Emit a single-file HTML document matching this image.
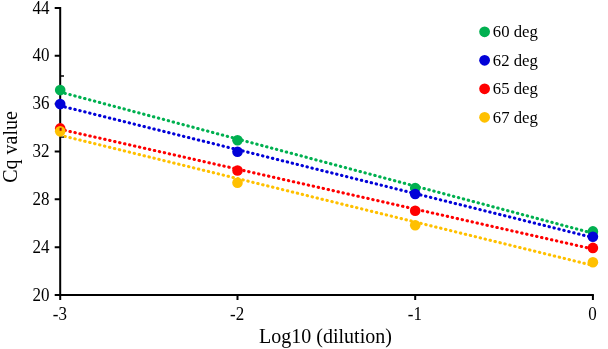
<!DOCTYPE html>
<html><head><meta charset="utf-8"><style>
html,body{margin:0;padding:0;background:#fff;}
body{width:608px;height:349px;overflow:hidden;}
svg{display:block;will-change:transform;}
.tl{font-family:"Liberation Serif",serif;font-size:16.7px;fill:#000;}
.t{font-family:"Liberation Serif",serif;font-size:17px;fill:#000;}
.tx{font-family:"Liberation Serif",serif;font-size:17px;fill:#000;}
.ti{font-family:"Liberation Serif",serif;font-size:20px;fill:#000;}
</style></head><body>
<svg width="608" height="349" viewBox="0 0 608 349">
<path d="M60.2 7.0V296.0M59.2 295.0H593.9" stroke="#000" stroke-width="2" fill="none"/>
<text transform="translate(49.6,300.50) scale(1,1.08)" text-anchor="end" class="t">20</text>
<text transform="translate(49.6,252.67) scale(1,1.08)" text-anchor="end" class="t">24</text>
<text transform="translate(49.6,204.83) scale(1,1.08)" text-anchor="end" class="t">28</text>
<text transform="translate(49.6,157.00) scale(1,1.08)" text-anchor="end" class="t">32</text>
<text transform="translate(49.6,109.17) scale(1,1.08)" text-anchor="end" class="t">36</text>
<text transform="translate(49.6,61.33) scale(1,1.08)" text-anchor="end" class="t">40</text>
<text transform="translate(49.6,13.50) scale(1,1.08)" text-anchor="end" class="t">44</text>
<text transform="translate(59.90,319.9) scale(1,1.09)" text-anchor="middle" class="tx">-3</text>
<text transform="translate(237.20,319.9) scale(1,1.09)" text-anchor="middle" class="tx">-2</text>
<text transform="translate(414.90,319.9) scale(1,1.09)" text-anchor="middle" class="tx">-1</text>
<text transform="translate(592.60,319.9) scale(1,1.09)" text-anchor="middle" class="tx">0</text>
<path d="M54.7 295.00H60.2M54.7 247.17H60.2M54.7 199.33H60.2M54.7 151.50H60.2M54.7 103.67H60.2M54.7 55.83H60.2M54.7 8.00H60.2M60.20 295.0V300.0M237.50 295.0V300.0M415.20 295.0V300.0M592.90 295.0V300.0" stroke="#000" stroke-width="2" fill="none"/>
<line x1="60.2" y1="92.04" x2="592.9" y2="233.25" stroke="#00b050" stroke-width="3.1" stroke-dasharray="0.4 4.688" stroke-dashoffset="0.2" stroke-linecap="round"/>
<line x1="60.2" y1="105.81" x2="592.9" y2="237.52" stroke="#0202d8" stroke-width="3.1" stroke-dasharray="0.4 4.688" stroke-dashoffset="0.2" stroke-linecap="round"/>
<line x1="60.2" y1="129.30" x2="592.9" y2="249.05" stroke="#ff0000" stroke-width="3.1" stroke-dasharray="0.4 4.688" stroke-dashoffset="0.2" stroke-linecap="round"/>
<line x1="60.2" y1="135.23" x2="592.9" y2="265.42" stroke="#ffc000" stroke-width="3.1" stroke-dasharray="0.4 4.688" stroke-dashoffset="0.2" stroke-linecap="round"/>
<path d="M60.2 76H64M60.2 137.2H64" stroke="#000" stroke-width="1.3" fill="none"/>
<circle cx="60.20" cy="90.10" r="5.3" fill="#00b050"/>
<circle cx="237.50" cy="140.30" r="5.3" fill="#00b050"/>
<circle cx="415.20" cy="188.00" r="5.3" fill="#00b050"/>
<circle cx="592.90" cy="231.40" r="5.3" fill="#00b050"/>
<circle cx="60.20" cy="104.10" r="5.3" fill="#0202d8"/>
<circle cx="237.50" cy="151.70" r="5.3" fill="#0202d8"/>
<circle cx="415.20" cy="194.00" r="5.3" fill="#0202d8"/>
<circle cx="592.90" cy="236.80" r="5.3" fill="#0202d8"/>
<circle cx="60.20" cy="128.40" r="5.3" fill="#ff0000"/>
<circle cx="237.50" cy="170.50" r="5.3" fill="#ff0000"/>
<circle cx="415.20" cy="210.80" r="5.3" fill="#ff0000"/>
<circle cx="592.90" cy="247.90" r="5.3" fill="#ff0000"/>
<circle cx="60.20" cy="131.30" r="5.3" fill="#ffc000"/>
<circle cx="237.50" cy="182.80" r="5.3" fill="#ffc000"/>
<circle cx="415.20" cy="225.30" r="5.3" fill="#ffc000"/>
<circle cx="592.90" cy="262.30" r="5.3" fill="#ffc000"/>
<rect x="59.6" y="127.8" width="2" height="3" fill="#a01010"/>
<circle cx="484.6" cy="31.80" r="5.4" fill="#00b050"/>
<text x="492.8" y="37.30" class="tl">60 deg</text>
<circle cx="484.6" cy="60.30" r="5.4" fill="#0202d8"/>
<text x="492.8" y="65.80" class="tl">62 deg</text>
<circle cx="484.6" cy="88.80" r="5.4" fill="#ff0000"/>
<text x="492.8" y="94.30" class="tl">65 deg</text>
<circle cx="484.6" cy="117.30" r="5.4" fill="#ffc000"/>
<text x="492.8" y="122.80" class="tl">67 deg</text>
<text x="325.5" y="343.4" text-anchor="middle" class="ti">Log10 (dilution)</text>
<text transform="translate(17.2,147) rotate(-90)" text-anchor="middle" class="ti">Cq value</text>
</svg>
</body></html>
